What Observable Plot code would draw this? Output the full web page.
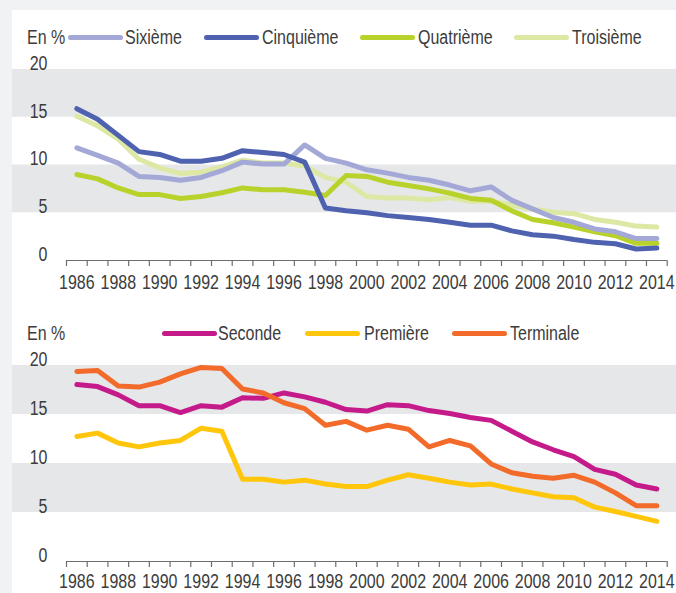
<!DOCTYPE html>
<html>
<head>
<meta charset="utf-8">
<script src="https://cdn.jsdelivr.net/npm/d3@7"></script>
<script src="https://cdn.jsdelivr.net/npm/@observablehq/plot@0.6"></script>
<style>
  html, body { margin: 0; padding: 0; }
  body {
    width: 676px; height: 593px; overflow: hidden; background: #f1f2f4;
    font-family: "Liberation Sans", Arial, sans-serif;
    color: #3c3c3c;
  }
  #card { position: absolute; left: 12px; top: 10px; width: 664px; height: 583px; background: #fff; overflow: hidden; }
  .panel { position: absolute; left: 0; }
  .lg { position: absolute; font-size: 19.5px; line-height: 20px; white-space: nowrap;
        transform: scaleX(0.82); transform-origin: 0 50%; }
  .sw { position: absolute; height: 5px; border-radius: 3px; }
</style>
</head>
<body>
<div id="card">
  <div id="top" class="panel" style="top:40px"></div>
  <div id="bottom" class="panel" style="top:335px"></div>
</div>
<script>
// ---- data ----
const years = [1986,1987,1988,1989,1990,1991,1992,1993,1994,1995,1996,1997,1998,1999,2000,
               2001,2002,2003,2004,2005,2006,2007,2008,2009,2010,2011,2012,2013,2014];
const tickYears = [1986,1987,1988,1989,1990,1991,1992,1993,1994,1995,1996,1997,1998,1999,2000,
                   2001,2002,2003,2004,2005,2006,2007,2008,2009,2010,2011,2012,2013,2014,2015];
const labelYears = [1986,1988,1990,1992,1994,1996,1998,2000,2002,2004,2006,2008,2010,2012,2014];
const yTicks = [0, 5, 10, 15, 20];
const bands = [[15, 20], [5, 10]];

const sixieme   = [11.8, 11.0, 10.2, 8.8, 8.7, 8.4, 8.7, 9.4, 10.3, 10.1, 10.1, 12.1, 10.7, 10.2, 9.5,
                   9.15, 8.7, 8.4, 7.9, 7.3, 7.7, 6.3, 5.4, 4.5, 4.0, 3.3, 3.0, 2.3, 2.3];
const cinquieme = [15.9, 14.8, 13.1, 11.4, 11.1, 10.4, 10.4, 10.7, 11.5, 11.3, 11.1, 10.3, 5.5, 5.2, 5.0,
                   4.7, 4.5, 4.3, 4.0, 3.7, 3.7, 3.1, 2.7, 2.55, 2.2, 1.9, 1.75, 1.2, 1.3];
const quatrieme = [9.0, 8.55, 7.6, 6.9, 6.9, 6.5, 6.7, 7.1, 7.6, 7.4, 7.4, 7.15, 6.8, 8.9, 8.8,
                   8.2, 7.85, 7.5, 7.05, 6.5, 6.3, 5.2, 4.3, 3.95, 3.5, 3.0, 2.6, 1.8, 1.8];
const troisieme = [15.1, 14.1, 12.7, 10.6, 9.7, 9.1, 9.25, 9.8, 10.5, 10.2, 10.2, 9.9, 8.7, 8.2, 6.7,
                   6.55, 6.55, 6.35, 6.6, 6.2, 6.2, 5.8, 5.4, 5.06, 4.9, 4.3, 4.0, 3.6, 3.5];

const seconde   = [18.05, 17.85, 17.0, 15.9, 15.9, 15.2, 15.9, 15.75, 16.7, 16.65, 17.2, 16.8, 16.25, 15.5, 15.35,
                   16.0, 15.9, 15.4, 15.1, 14.7, 14.4, 13.3, 12.2, 11.4, 10.7, 9.4, 8.9, 7.8, 7.4];
const premiere  = [12.75, 13.1, 12.1, 11.7, 12.1, 12.35, 13.6, 13.3, 8.4, 8.4, 8.1, 8.3, 7.9, 7.65, 7.65,
                   8.3, 8.85, 8.5, 8.1, 7.8, 7.9, 7.4, 7.0, 6.6, 6.5, 5.55, 5.1, 4.6, 4.1];
const terminale = [19.4, 19.5, 17.9, 17.8, 18.3, 19.15, 19.8, 19.7, 17.6, 17.2, 16.2, 15.6, 13.9, 14.3, 13.4,
                   13.9, 13.5, 11.7, 12.35, 11.8, 9.95, 9.05, 8.7, 8.5, 8.8, 8.1, 7.0, 5.7, 5.7];

const topSeries = [
  {name: "Sixième",   values: sixieme,   color: "#a4a8d6", legendX: 68,  labelX: 125},
  {name: "Cinquième", values: cinquieme, color: "#4e62b0", legendX: 204, labelX: 262},
  {name: "Quatrième", values: quatrieme, color: "#b9d22b", legendX: 360, labelX: 418},
  {name: "Troisième", values: troisieme, color: "#dce8a3", legendX: 514, labelX: 572}
];
const topDrawOrder = ["Troisième", "Quatrième", "Sixième", "Cinquième"];
const bottomSeries = [
  {name: "Seconde",   values: seconde,   color: "#c51b8a", legendX: 162, labelX: 218},
  {name: "Première",  values: premiere,  color: "#ffc60b", legendX: 305, labelX: 364},
  {name: "Terminale", values: terminale, color: "#f26b2a", legendX: 452, labelX: 510}
];
const bottomDrawOrder = ["Seconde", "Première", "Terminale"];

const axisColor = "#6d6e71";
const textColor = "#3c3c3c";
const fontFamily = getComputedStyle(document.body).fontFamily;

function rows(s) { return years.map((y, i) => ({year: y + 0.5, value: s.values[i]})); }

function makeChart({series, order, height, marginTop, marginBottom, labelPad}) {
  const byName = new Map(series.map(s => [s.name, s]));
  const svg = Plot.plot({
    width: 664,
    height,
    marginLeft: 54,
    marginRight: 9.3,
    marginTop,
    marginBottom,
    x: {domain: [1986, 2015], axis: null, label: null},
    y: {domain: [0, 20], axis: null, label: null},
    style: {fontFamily, fontSize: "19.5px", color: textColor, background: "transparent", overflow: "visible"},
    marks: [
      Plot.rect(bands, {y1: d => d[0], y2: d => d[1], fill: "#e6e7e9", insetLeft: -54, insetRight: -10}),
      Plot.axisY({ticks: yTicks, tickSize: 0, tickPadding: 19, dy: -6, fill: textColor, fontSize: 19.5, label: null}),
      Plot.ruleY([0], {x1: 1986, x2: 2015, stroke: axisColor, strokeWidth: 1.2}),
      Plot.axisX({ticks: tickYears, tickSize: 6, tickFormat: () => "", stroke: axisColor, strokeWidth: 1.2, label: null}),
      Plot.axisX({ticks: labelYears.map(y => y + 0.5), tickSize: 0, tickPadding: labelPad, label: null,
                  tickFormat: d => String(Math.round(d - 0.5)), fill: textColor, fontSize: 19.5}),
      ...order.map(n => Plot.line(rows(byName.get(n)), {
        x: "year", y: "value", stroke: byName.get(n).color, strokeWidth: 5,
        strokeLinejoin: "round", strokeLinecap: "round"
      }))
    ]
  });
  // condensed look: narrow each tick label horizontally about its anchor
  svg.querySelectorAll('g[aria-label$="tick label"] text').forEach(t => {
    const tr = t.getAttribute("transform") || "";
    t.setAttribute("transform", tr + " scale(0.82,1)");
  });
  return svg;
}

function addLegend(container, series, lineTop) {
  const en = document.createElement("div");
  en.className = "lg";
  en.textContent = "En %";
  en.style.left = (27 - 12) + "px";
  en.style.top = (lineTop - 10) + "px";
  container.appendChild(en);
  for (const s of series) {
    const sw = document.createElement("div");
    sw.className = "sw";
    sw.style.background = s.color;
    sw.style.left = (s.legendX - 12) + "px";
    sw.style.width = "55px";
    sw.style.top = (lineTop - 2.5) + "px";
    container.appendChild(sw);
    const lb = document.createElement("div");
    lb.className = "lg";
    lb.textContent = s.name;
    lb.style.left = (s.labelX - 12) + "px";
    lb.style.top = (lineTop - 10) + "px";
    container.appendChild(lb);
  }
}

const card = document.getElementById("card");
document.getElementById("top").appendChild(makeChart({
  series: topSeries, order: topDrawOrder, height: 250, marginTop: 19, marginBottom: 40, labelPad: 15
}));
document.getElementById("bottom").appendChild(makeChart({
  series: bottomSeries, order: bottomDrawOrder, height: 248, marginTop: 20, marginBottom: 32, labelPad: 13
}));
addLegend(card, topSeries, 37 - 10);
addLegend(card, bottomSeries, 333 - 10);
</script>
</body>
</html>
